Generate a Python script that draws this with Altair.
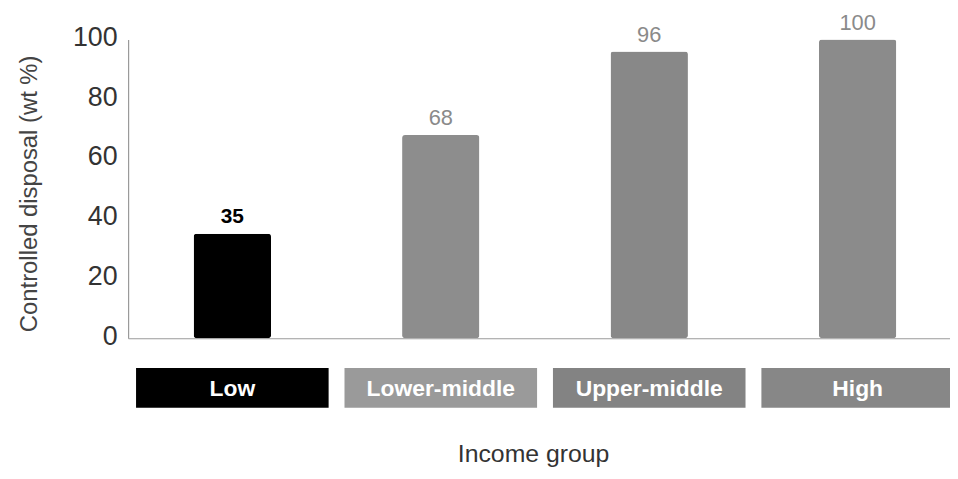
import altair as alt
import pandas as pd

categories = ["Low", "Lower-middle", "Upper-middle", "High"]
values = [35, 68, 96, 100]
bar_colors = ["#000000", "#8d8d8d", "#888888", "#8b8b8b"]
box_colors = ["#000000", "#9a9a9a", "#838383", "#878787"]
label_colors = ["#000000", "#8a8a8a", "#8a8a8a", "#8a8a8a"]

df = pd.DataFrame({
    "group": categories,
    "value": values,
    "label": [str(v) for v in values],
})

FONT = "Liberation Sans"

xscale = alt.Scale(domain=categories, range=[0, 840], paddingInner=0, paddingOuter=0)
x_axis = alt.Axis(labels=False, ticks=False, domain=True, domainColor="#9a9a9a",
                  domainWidth=1.2, grid=False, title="Income group",
                  titleFont=FONT, titleFontSize=25, titleFontWeight="normal",
                  titleColor="#333333", titleX=408, titleY=124,
                  titleBaseline="alphabetic", titleAlign="center", titleAnchor="start")
y_axis = alt.Axis(values=[0, 20, 40, 60, 80, 100], ticks=False, grid=False,
                  domainColor="#9a9a9a", domainWidth=1.2,
                  labelFont=FONT, labelFontSize=27, labelColor="#333333",
                  labelPadding=11, labelOffset=-2,
                  title="Controlled disposal (wt %)", titleFont=FONT,
                  titleFontSize=24, titleFontWeight="normal", titleColor="#444444",
                  titleX=-92, titleY=155, titleBaseline="alphabetic",
                  titleAlign="center", titleAnchor="start", titleAngle=270)

x = alt.X("group:N", sort=categories, scale=xscale, axis=x_axis)
col_bar = alt.Color("group:N", scale=alt.Scale(domain=categories, range=bar_colors), legend=None)
col_box = alt.Color("group:N", scale=alt.Scale(domain=categories, range=box_colors), legend=None)
col_lab = alt.Color("group:N", scale=alt.Scale(domain=categories, range=label_colors), legend=None)

base = alt.Chart(df)

bars = base.mark_bar(size=78, cornerRadius=3).encode(
    x=x,
    y=alt.Y("value:Q", scale=alt.Scale(domain=[0, 100], nice=False), axis=y_axis),
    color=col_bar,
)

vals_low = base.transform_filter(alt.datum.group == "Low").mark_text(
    font=FONT, fontSize=21, fontWeight="bold", dy=-17, baseline="middle"
).encode(x=x, y="value:Q", text="label:N", color=col_lab)

vals_other = base.transform_filter(alt.datum.group != "Low").mark_text(
    font=FONT, fontSize=22, dy=-17, baseline="middle"
).encode(x=x, y="value:Q", text="label:N", color=col_lab)

boxes = base.mark_bar(size=194, cornerRadius=0).encode(
    x=x, y=alt.value(331), y2=alt.value(371), color=col_box
)

box_text = base.mark_text(
    font=FONT, fontSize=23, fontWeight="bold", color="white", baseline="middle"
).encode(x=x, y=alt.value(352), text="group:N")

chart = alt.layer(bars, vals_low, vals_other, boxes, box_text).resolve_scale(
    color="independent"
).properties(
    width=820, height=301,
    autosize=alt.AutoSizeParams(type="none"),
    padding={"left": 121, "top": 30, "right": 8, "bottom": 132},
).configure(background="white").configure_view(stroke=None)

chart.save("out.html", embed_options={"renderer": "svg", "actions": False})
